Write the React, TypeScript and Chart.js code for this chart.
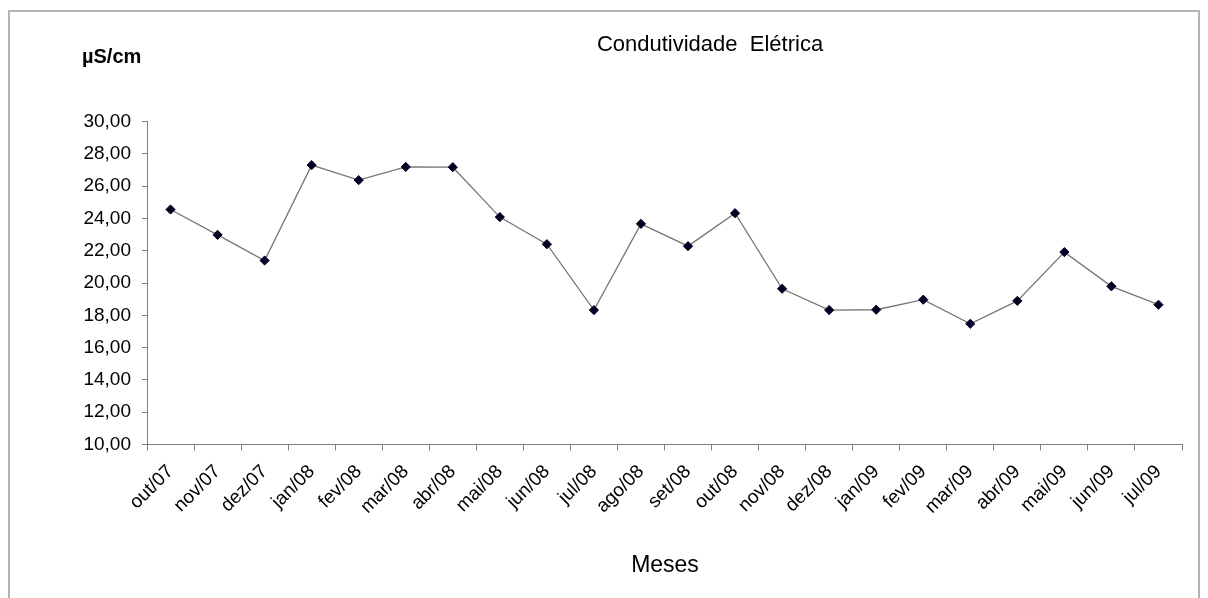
import React, { useEffect, useRef } from "react";
import { Chart, registerables } from "chart.js";

Chart.register(...registerables);

const months = [
  "out/07", "nov/07", "dez/07", "jan/08", "fev/08", "mar/08", "abr/08", "mai/08",
  "jun/08", "jul/08", "ago/08", "set/08", "out/08", "nov/08", "dez/08", "jan/09",
  "fev/09", "mar/09", "abr/09", "mai/09", "jun/09", "jul/09",
];

const conductivity = [
  24.56, 22.99, 21.4, 27.31, 26.38, 27.2, 27.18, 24.09, 22.41, 18.33, 23.67,
  22.29, 24.33, 19.65, 18.33, 18.35, 18.97, 17.48, 18.9, 21.92, 19.8, 18.66,
];

const yMin = 10;
const yMax = 30;
const yStep = 2;

const chartTitle = "Condutividade  Elétrica";
const unitLabel = "µS/cm";
const xTitle = "Meses";

const FONT = "'Liberation Sans', Arial, sans-serif";

const decorPlugin = {
  id: "decor",
  beforeDraw(chart: any) {
    const ctx = chart.ctx;
    ctx.save();
    ctx.fillStyle = "#ffffff";
    ctx.fillRect(0, 0, chart.width, chart.height);
    ctx.strokeStyle = "#b4b4b4";
    ctx.lineWidth = 2;
    ctx.strokeRect(9, 11, 1190, 620);
    ctx.restore();
  },
  afterDraw(chart: any) {
    const ctx = chart.ctx;
    ctx.save();
    ctx.fillStyle = "#000000";
    ctx.textBaseline = "middle";
    ctx.textAlign = "center";
    ctx.font = `22px ${FONT}`;
    ctx.fillText(chartTitle, 710, 45);
    ctx.textAlign = "left";
    ctx.font = `bold 20px ${FONT}`;
    ctx.fillText(unitLabel, 82, 57);
    ctx.textAlign = "center";
    ctx.font = `23px ${FONT}`;
    ctx.fillText(xTitle, 665, 566);
    ctx.restore();
  },
};

export default function App() {
  const canvasRef = useRef<HTMLCanvasElement | null>(null);

  useEffect(() => {
    if (!canvasRef.current) return;
    const chart = new Chart(canvasRef.current, {
      type: "line",
      data: {
        labels: months,
        datasets: [
          {
            data: conductivity,
            borderColor: "#777777",
            borderWidth: 1.3,
            pointStyle: "rectRot",
            pointRadius: 4.6,
            pointBackgroundColor: "#000022",
            pointBorderColor: "#000022",
            pointBorderWidth: 1,
            tension: 0,
            fill: false,
          },
        ],
      },
      options: {
        responsive: false,
        animation: false,
        layout: { padding: { left: 0, top: 121.7, right: 26, bottom: 53.5 } },
        plugins: {
          legend: { display: false },
          title: { display: false },
          tooltip: { enabled: false },
        },
        scales: {
          x: {
            type: "category",
            offset: true,
            grid: {
              offset: true,
              drawOnChartArea: false,
              drawTicks: true,
              tickLength: 6,
              color: "#808080",
            },
            border: { color: "#808080", width: 1 },
            ticks: {
              autoSkip: false,
              minRotation: 45,
              maxRotation: 45,
              padding: 10,
              color: "#000000",
              font: { family: FONT, size: 19 },
            },
            afterFit: (scale: any) => {
              scale.height = 100;
            },
          },
          y: {
            min: yMin,
            max: yMax,
            grid: {
              drawOnChartArea: false,
              drawTicks: true,
              tickLength: 5,
              color: "#808080",
            },
            border: { color: "#808080", width: 1 },
            ticks: {
              stepSize: yStep,
              padding: 11,
              color: "#000000",
              font: { family: FONT, size: 19 },
              callback: (v: any) => Number(v).toFixed(2).replace(".", ","),
            },
            afterFit: (scale: any) => {
              scale.width = 147;
            },
          },
        },
      },
      plugins: [decorPlugin],
    });
    return () => chart.destroy();
  }, []);

  return (
    <div style={{ position: "absolute", left: 0, top: 0, width: 1208, height: 598 }}>
      <canvas ref={canvasRef} width={1208} height={598} style={{ display: "block" }} />
    </div>
  );
}
